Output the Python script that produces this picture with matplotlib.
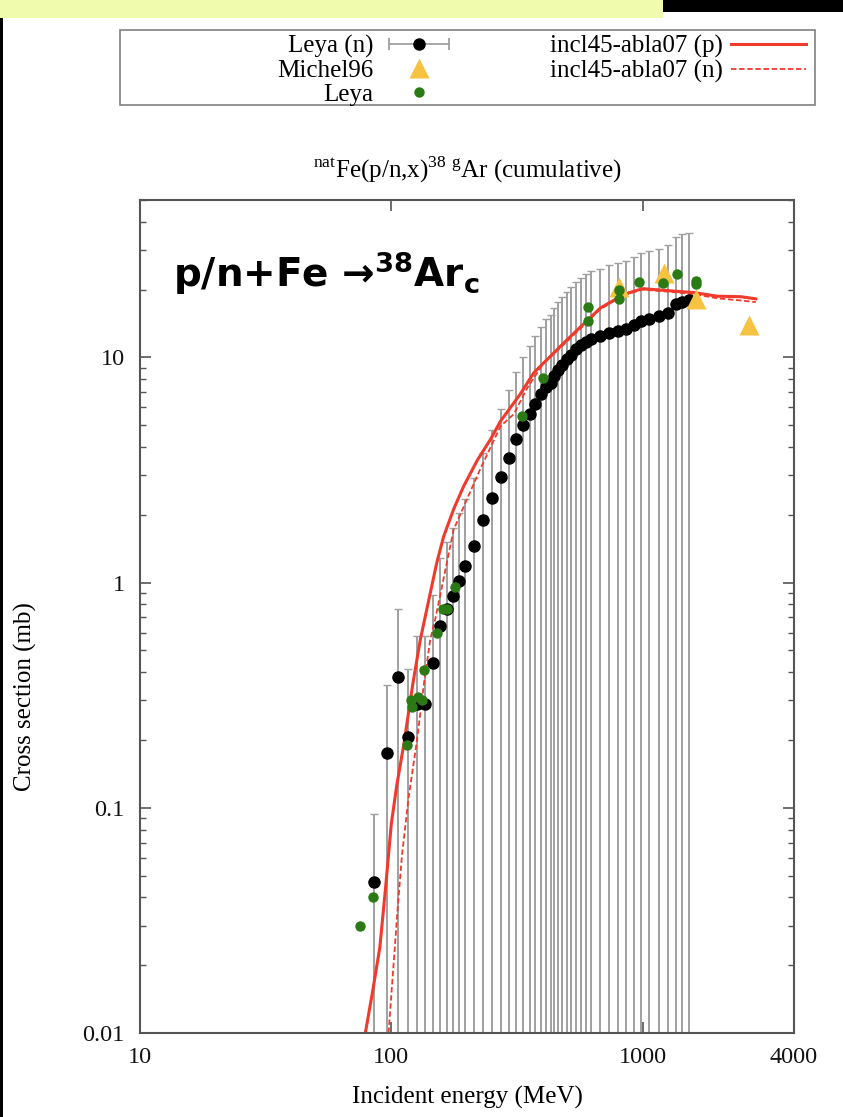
import numpy as np
import matplotlib.pyplot as plt
from matplotlib.lines import Line2D
from matplotlib.patches import Rectangle
from matplotlib.legend_handler import HandlerLine2D, HandlerTuple
from matplotlib.ticker import FixedLocator, NullLocator, LogLocator

plt.rcParams['font.family'] = ['Liberation Serif', 'DejaVu Serif']
plt.rcParams['mathtext.fontset'] = 'custom'
plt.rcParams['mathtext.rm'] = 'Liberation Serif'
plt.rcParams['mathtext.bf'] = 'DejaVu Sans:bold'

# Leya (n) - black points, +-100% uncertainty
leya_n_e = [85, 96, 106, 116.5, 126.5, 136.5, 146.6, 155.8, 166.7, 176, 186.6, 197,
            213, 232, 252, 272, 293, 314, 334, 355, 373, 395, 413, 430, 444, 460,
            479, 498, 520, 541, 566, 593, 625, 675, 735, 798, 855, 923, 982, 1059,
            1161, 1265, 1362, 1440, 1529]
leya_n_xs = [0.047, 0.175, 0.38, 0.207, 0.29, 0.29, 0.44, 0.64, 0.76, 0.875, 1.02, 1.18,
             1.46, 1.89, 2.38, 2.94, 3.58, 4.32, 5.0, 5.6, 6.2, 6.85, 7.4, 7.7, 8.26, 8.8,
             9.3, 9.8, 10.3, 10.85, 11.3, 11.7, 12.1, 12.4, 12.8, 13.1, 13.4, 13.9, 14.5, 14.8,
             15.2, 15.8, 17.2, 17.7, 17.9]
rel_err = 1.0

# Michel96 - yellow triangles
michel_e = [805, 1219, 1626, 2652]
michel_xs = [20.6, 23.6, 18.1, 13.9]

# Leya - green points
leya_e = [75.2, 84.5, 115.5, 120, 121, 128, 133, 135.3, 152, 161, 166, 180,
          331, 400, 606, 606, 805, 805, 966, 1204, 1374, 1626, 1626]
leya_xs = [0.030, 0.040, 0.19, 0.30, 0.28, 0.31, 0.30, 0.41, 0.60, 0.76, 0.76, 0.96,
           5.5, 8.1, 16.8, 14.5, 19.9, 18.2, 21.6, 21.3, 23.4, 21.9, 21.1]

# incl45-abla07 (p) - solid
abla_p_e = [78.8, 84, 90, 95, 100, 105, 112, 122, 130.5, 142.9, 151.5, 161.4, 177, 194,
            220, 247.9, 271.6, 326.5, 368.8, 501, 680, 842.5, 997, 1254, 1601, 1983,
            2455, 2818]
abla_p_xs = [0.010, 0.015, 0.024, 0.045, 0.085, 0.125, 0.19, 0.36, 0.56, 0.9, 1.22, 1.6, 2.12,
             2.68, 3.5, 4.32, 5.2, 6.9, 8.55, 12.0, 16.6, 19.05, 20.2, 19.8, 19.4, 18.7,
             18.6, 18.2]

# incl45-abla07 (n) - dashed
abla_n_e = [97.5, 102, 106, 110.3, 117, 126.5, 135, 142.9, 150, 177, 226, 272, 307,
            347, 400, 501, 680, 842.5, 997, 1254, 1601, 1983, 2455, 2818]
abla_n_xs = [0.010, 0.02, 0.036, 0.062, 0.11, 0.2, 0.36, 0.56, 0.7, 1.72, 3.2, 4.95, 5.6,
             7.3, 9.3, 11.8, 16.4, 18.9, 20.0, 19.6, 19.1, 18.3, 17.9, 17.6]

red = '#f03a2c'
green = '#2b7a16'
gold = '#f6c242'
bar_gray = '#a0a0a0'

W, H = 843, 1117
fig = plt.figure(figsize=(W / 100, H / 100), dpi=100)
ax = fig.add_axes([140 / W, 1 - 1033 / H, 654 / W, 833 / H])
ax.set_xscale('log')
ax.set_yscale('log')
ax.set_xlim(10, 4000)
ax.set_ylim(0.01, 50)

# lower half of each bar runs below the axis floor (cross section - 100% <= 0)
y = np.array(leya_n_xs)
ax.errorbar(leya_n_e, leya_n_xs, yerr=[y - 1e-4, y * rel_err], fmt='none',
            ecolor=bar_gray, elinewidth=1.4, capsize=2.8, capthick=1.0, zorder=1)
ax.plot(abla_p_e, abla_p_xs, '-', color=red, lw=2.2, zorder=2)
ax.plot(abla_n_e, abla_n_xs, color=red, lw=1.3, dashes=(3, 1.5), zorder=2)
ax.plot(leya_n_e, leya_n_xs, 'o', color='black', ms=8, zorder=3)
ax.plot(michel_e, michel_xs, '^', color=gold, ms=15, mec='none', zorder=4)
ax.plot(leya_e, leya_xs, 'o', color=green, ms=7.5, mec='none', zorder=5)

ax.xaxis.set_major_locator(FixedLocator([10, 100, 1000, 4000]))
ax.set_xticklabels(['10', '100', '1000', '4000'])
ax.xaxis.set_minor_locator(NullLocator())
ax.yaxis.set_major_locator(FixedLocator([0.01, 0.1, 1, 10]))
ax.set_yticklabels(['0.01', '0.1', '1', '10'])
ax.yaxis.set_minor_locator(LogLocator(base=10, subs=np.arange(2, 10)))
ax.yaxis.set_minor_formatter(plt.NullFormatter())
ax.tick_params(which='both', direction='in', top=True, right=True,
               colors='#555555', labelcolor='#111111', labelsize=17.5)
ax.tick_params(which='major', length=8, width=1.2)
ax.tick_params(which='minor', length=4.5, width=1.0)
ax.tick_params(axis='y', pad=11)
ax.tick_params(axis='x', pad=10)
for s in ax.spines.values():
    s.set_color('#555555')
    s.set_linewidth(1.5)

ax.set_xlabel('Incident energy (MeV)', fontsize=18, va='center')
ax.xaxis.set_label_coords(0.5, (1033 - 1097) / 833)
ax.set_ylabel('Cross section (mb)', fontsize=18, va='center')
ax.yaxis.set_label_coords(-115 / 654, (1033 - 697) / 833)

fig.text(467 / W, 1 - 170 / H, r'$^{\mathrm{nat}}$Fe(p/n,x)$^{\mathrm{38\ g}}$Ar (cumulative)',
         ha='center', va='center', fontsize=18)
fig.text(173 / W, 1 - 287 / H, r'p/n+Fe →$^{\mathbf{38}}$Ar$_{\mathbf{c}}$',
         fontsize=28, fontweight='bold', family=['DejaVu Sans'], va='baseline')

# slide decorations around the chart
fig.add_artist(Rectangle((0, 1 - 18 / H), 663 / W, 18 / H, transform=fig.transFigure,
                         color='#f1fbae', lw=0, zorder=0))
fig.add_artist(Rectangle((663 / W, 1 - 12 / H), 180 / W, 12 / H, transform=fig.transFigure,
                         color='black', lw=0))
fig.add_artist(Rectangle((0, 0), 2.5 / W, 1 - 18 / H, transform=fig.transFigure,
                         color='black', lw=0))
fig.add_artist(Rectangle((120 / W, 1 - 105 / H), 695 / W, 75 / H, transform=fig.transFigure,
                         fill=False, ec='#808080', lw=1.2))

# legend
bar_h = Line2D([], [], color=bar_gray, lw=1.3, marker='|', ms=8, mew=1.3)
dot_h = Line2D([], [], ls='none', marker='o', color='black', ms=8)
handles = [(bar_h, dot_h),
           Line2D([], [], ls='none', marker='^', color=gold, mec='none', ms=15),
           Line2D([], [], ls='none', marker='o', color=green, mec='none', ms=7.5),
           Line2D([], [], color=red, lw=2.2),
           Line2D([], [], color=red, lw=1.3, dashes=(3, 1.5))]
labels = ['Leya (n)', 'Michel96', 'Leya', 'incl45-abla07 (p)', 'incl45-abla07 (n)']
fig.legend(handles, labels, loc='upper right', bbox_to_anchor=(806 / W, 1 - 35 / H),
           ncol=2, frameon=False, markerfirst=False, fontsize=18,
           handlelength=3.0, handletextpad=0.32, columnspacing=3.75, labelspacing=0.06,
           borderpad=0, borderaxespad=0,
           handler_map={bar_h: HandlerLine2D(numpoints=2), tuple: HandlerTuple(ndivide=1)})

fig.savefig('out.png', dpi=100)
